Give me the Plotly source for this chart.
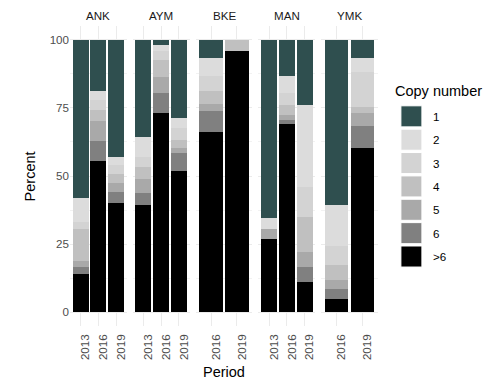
import plotly.graph_objects as go
from plotly.subplots import make_subplots

# ---- data ----
sites = ["ANK", "AYM", "BKE", "MAN", "YMK"]
periods = {
    "ANK": ["2013", "2016", "2019"],
    "AYM": ["2013", "2016", "2019"],
    "BKE": ["2016", "2019"],
    "MAN": ["2013", "2016", "2019"],
    "YMK": ["2016", "2019"],
}
copy_levels = ["1", "2", "3", "4", "5", "6", ">6"]
# percent per site, in period order
cn_1 = {"ANK": [58, 18.7, 43], "AYM": [35.8, 1.8, 28.8], "BKE": [6.7, 0], "MAN": [65.4, 13.5, 23.9], "YMK": [60.7, 6.7]}
cn_2 = {"ANK": [9, 3.4, 3], "AYM": [7.2, 2.5, 3.7], "BKE": [6.8, 0], "MAN": [3.9, 6.1, 30.1], "YMK": [15.1, 5]}
cn_3 = {"ANK": [2.5, 3.6, 3.1], "AYM": [3.6, 3.1, 4.3], "BKE": [5.5, 0], "MAN": [0, 4.3, 11], "YMK": [7, 13.1]}
cn_4 = {"ANK": [11.5, 4, 3.3], "AYM": [4.6, 6.3, 3.1], "BKE": [4.6, 4.1], "MAN": [0, 3.7, 12.9], "YMK": [5.5, 2]}
cn_5 = {"ANK": [2.5, 7.4, 3.4], "AYM": [5.2, 5.9, 1.8], "BKE": [2.4, 0], "MAN": [3.7, 1.8, 5.5], "YMK": [3.1, 4.9]}
cn_6 = {"ANK": [2.5, 7.3, 4.2], "AYM": [4.1, 7.4, 6.4], "BKE": [8, 0], "MAN": [0, 1.5, 5.3], "YMK": [3.7, 7.9]}
cn_gt6 = {"ANK": [14, 55.6, 40], "AYM": [39.5, 73, 51.9], "BKE": [66, 95.9], "MAN": [27, 69.1, 11.3], "YMK": [4.9, 60.4]}
series = {"1": cn_1, "2": cn_2, "3": cn_3, "4": cn_4, "5": cn_5, "6": cn_6, ">6": cn_gt6}
y_ticks = [0, 25, 50, 75, 100]

# ---- styles ----
colors = {"1": "#2F4F4F", "2": "#DCDCDC", "3": "#D3D3D3", "4": "#C0C0C0",
          "5": "#A9A9A9", "6": "#808080", ">6": "#000000"}
OFF = 8  # default page body margin
WIN_W, WIN_H = 499, 382
W, H = WIN_W - OFF, WIN_H - OFF
# plot area in window pixels
p_left, p_right, p_top, p_bottom = 69.6, 377.6, 26.4, 325.6
ml, mt = p_left - OFF, p_top - OFF
mr, mb = (W + OFF) - p_right, (H + OFF) - p_bottom
pw = p_right - p_left
ph = p_bottom - p_top
gap = 6.0
font_fam = "Liberation Sans, Arial, sans-serif"

def px_x(x):
    return (x - p_left) / pw

def px_y(y):
    return (p_bottom - y) / ph

fig = make_subplots(rows=1, cols=len(sites), shared_yaxes=True,
                    horizontal_spacing=gap / pw)

for ci, site in enumerate(sites, start=1):
    for lvl in reversed(copy_levels):  # >6 at the bottom
        fig.add_trace(go.Bar(
            x=periods[site], y=series[lvl][site], name=lvl,
            marker=dict(color=colors[lvl], line=dict(width=0)),
            width=0.9, showlegend=False,
            hovertemplate=site + " %{x}<br>" + lvl + ": %{y}%<extra></extra>",
        ), row=1, col=ci)
    n = len(periods[site])
    fig.update_xaxes(row=1, col=ci, type="category", range=[-0.6, n - 0.4],
                     tickangle=-90, showgrid=True, gridcolor="#EBEBEB", gridwidth=1,
                     zeroline=False, showline=False, ticks="", automargin=False,
                     ticklabelshift=5, ticklabelstandoff=5,
                     tickfont=dict(size=11.6, color="#4D4D4D", family=font_fam))
    fig.add_annotation(text=site, x=0.5, xref=f"x{'' if ci == 1 else ci} domain",
                       y=px_y(15.5), yref="paper", xanchor="center", yanchor="middle",
                       showarrow=False,
                       font=dict(size=11.6, color="#1A1A1A", family=font_fam))

fig.update_yaxes(range=[-5, 105], tickvals=y_ticks, ticktext=[str(v) for v in y_ticks],
                 showgrid=True, gridcolor="#EBEBEB", gridwidth=1, zeroline=False,
                 showline=False, ticks="", automargin=False,
                 minor=dict(dtick=12.5, tick0=0, showgrid=True, gridcolor="#F2F2F2", gridwidth=0.6),
                 tickfont=dict(size=11.6, color="#4D4D4D", family=font_fam))

# axis titles
fig.add_annotation(text="Period", x=px_x(223.5), y=px_y(371.5), xref="paper", yref="paper",
                   xanchor="center", yanchor="middle",
                   showarrow=False, font=dict(size=14.5, color="#000", family=font_fam))
fig.add_annotation(text="Percent", x=px_x(30), y=px_y(176), xref="paper", yref="paper",
                   xanchor="center", yanchor="middle",
                   textangle=-90, showarrow=False, font=dict(size=14.5, color="#000", family=font_fam))

# legend (drawn)
fig.add_annotation(text="Copy number", x=px_x(393), y=px_y(91), xref="paper", yref="paper",
                   xanchor="left", yanchor="middle", showarrow=False,
                   font=dict(size=14.5, color="#000", family=font_fam))
for i, lvl in enumerate(copy_levels):
    y0 = 106 + i * 23.3
    fig.add_shape(type="rect", xref="paper", yref="paper",
                  x0=px_x(400.5), x1=px_x(421.5), y0=px_y(y0 + 21), y1=px_y(y0),
                  fillcolor=colors[lvl], line=dict(color="#FFFFFF", width=1))
    fig.add_annotation(text=lvl, x=px_x(431), y=px_y(y0 + 10.5), xref="paper", yref="paper",
                       xanchor="left", yanchor="middle", showarrow=False,
                       font=dict(size=11.6, color="#000", family=font_fam))

fig.update_layout(width=W, height=H, barmode="stack", bargap=0.1,
                  margin=dict(l=ml, r=mr, t=mt, b=mb, autoexpand=False),
                  paper_bgcolor="white", plot_bgcolor="white",
                  font=dict(family=font_fam), showlegend=False)

fig.write_html("out.html")
